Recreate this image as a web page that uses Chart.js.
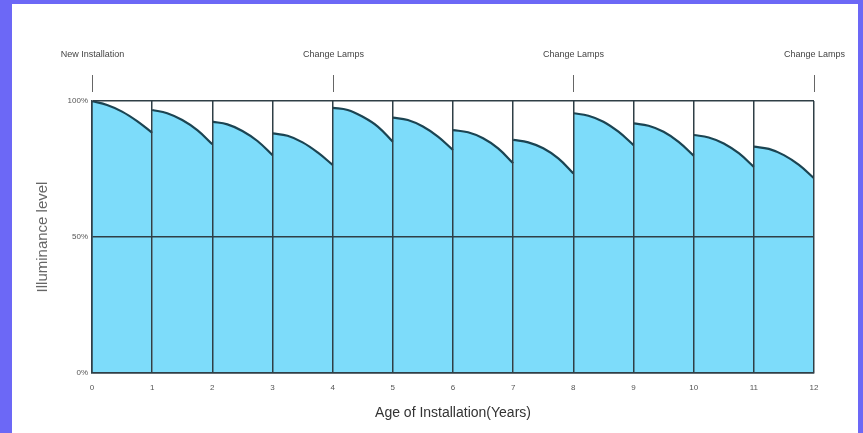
<!DOCTYPE html>
<html>
<head>
<meta charset="utf-8">
<script src="https://cdn.jsdelivr.net/npm/chart.js@4/dist/chart.umd.min.js"></script>
<style>
  html, body { margin: 0; padding: 0; background: #6c68f6; width: 863px; height: 433px; overflow: hidden; }
  #box { position: absolute; left: 12px; top: 4px; width: 846px; height: 429px; background: #fff; }
</style>
</head>
<body>
<div id="box"><canvas id="lampChart" width="846" height="429"></canvas></div>
<script>
// Valores (nível de iluminância em %, por ano)
const years = [0, 1, 2, 3, 4, 5, 6, 7, 8, 9, 10, 11, 12];
const startLevel   = [100, 96.7, 92.4, 88.1, 97.5, 93.9, 89.3, 85.7, 95.5, 91.8, 87.5, 83.2];
const quarterLevel = [98.5, 95.5, 91.4, 87.2, 96.7, 93.0, 88.5, 84.8, 94.6, 90.9, 86.6, 82.4];
const midLevel     = [96.1, 93.0, 89.0, 84.8, 94.2, 90.6, 86.3, 82.6, 92.4, 88.7, 84.4, 80.1];
const lateLevel    = [92.6, 89.3, 85.3, 81.1, 90.6, 86.9, 82.6, 78.9, 88.7, 85.0, 80.8, 76.5];
const endLevel     = [88.3, 84.1, 80.1, 76.5, 85.0, 82.0, 77.1, 73.4, 83.8, 79.9, 75.8, 71.6];
const yTicks = [0, 50, 100];
const eventYears  = [0, 4, 8, 12];
const eventLabels = ['New Installation', 'Change Lamps', 'Change Lamps', 'Change Lamps'];

const fillColor = '#7ddcfa';
const curveColor = '#1b4452';
const gridColor = '#2f3f46';

// um dataset por ano, para manter a queda vertical em cada troca
const datasets = startLevel.map((s, i) => ({
    data: [
        {x: i, y: s},
        {x: i + 0.25, y: quarterLevel[i]},
        {x: i + 0.5, y: midLevel[i]},
        {x: i + 0.75, y: lateLevel[i]},
        {x: i + 1, y: endLevel[i]}
    ],
    borderColor: curveColor,
    borderWidth: 2.2,
    backgroundColor: fillColor,
    fill: 'origin',
    tension: 0.4,
    pointRadius: 0
}));

// rótulos "New Installation" / "Change Lamps" acima do gráfico
const eventMarks = {
    id: 'eventMarks',
    afterDraw(chart) {
        const ctx = chart.ctx;
        const xs = chart.scales.x;
        ctx.save();
        ctx.font = '9px "Liberation Sans", Arial, sans-serif';
        ctx.fillStyle = '#444';
        ctx.textAlign = 'center';
        ctx.textBaseline = 'middle';
        ctx.strokeStyle = '#666';
        ctx.lineWidth = 1;
        eventYears.forEach((yr, i) => {
            const px = Math.round(xs.getPixelForValue(yr)) + 0.5;
            ctx.fillText(eventLabels[i], px, 51);
            ctx.beginPath();
            ctx.moveTo(px, 71);
            ctx.lineTo(px, 88);
            ctx.stroke();
        });
        ctx.restore();
    }
};

new Chart(document.getElementById('lampChart').getContext('2d'), {
    type: 'line',
    data: { datasets: datasets },
    options: {
        responsive: false,
        animation: false,
        layout: { padding: { left: 22, top: 97, right: 44, bottom: 11 } },
        plugins: {
            legend: { display: false },
            tooltip: { enabled: false }
        },
        scales: {
            x: {
                type: 'linear',
                min: years[0],
                max: years[years.length - 1],
                afterFit: s => { s.height = 49; },
                afterBuildTicks: s => { s.ticks = years.map(v => ({value: v})); },
                grid: { color: gridColor, lineWidth: 1.5, drawTicks: false, z: 1 },
                border: { color: gridColor, width: 1.5, z: 1 },
                ticks: {
                    padding: 10,
                    font: { size: 8, family: '"Liberation Sans", Arial, sans-serif' },
                    color: '#555'
                },
                title: {
                    display: true,
                    text: 'Age of Installation(Years)',
                    font: { size: 14, family: '"Liberation Sans", Arial, sans-serif' },
                    color: '#333',
                    padding: { top: 0, bottom: 0 }
                }
            },
            y: {
                min: 0,
                max: 100,
                afterFit: s => { s.width = 58; },
                afterBuildTicks: s => { s.ticks = yTicks.map(v => ({value: v})); },
                grid: { color: gridColor, lineWidth: 1.5, drawTicks: false, z: 1 },
                border: { color: gridColor, width: 1.5, z: 1 },
                ticks: {
                    padding: 4,
                    font: { size: 8, family: '"Liberation Sans", Arial, sans-serif' },
                    color: '#555',
                    callback: v => v + '%'
                },
                title: {
                    display: true,
                    text: 'Illuminance level',
                    font: { size: 15, family: '"Liberation Sans", Arial, sans-serif' },
                    color: '#666',
                    padding: { top: 0, bottom: 0 }
                }
            }
        }
    },
    plugins: [eventMarks]
});
</script>
</body>
</html>
